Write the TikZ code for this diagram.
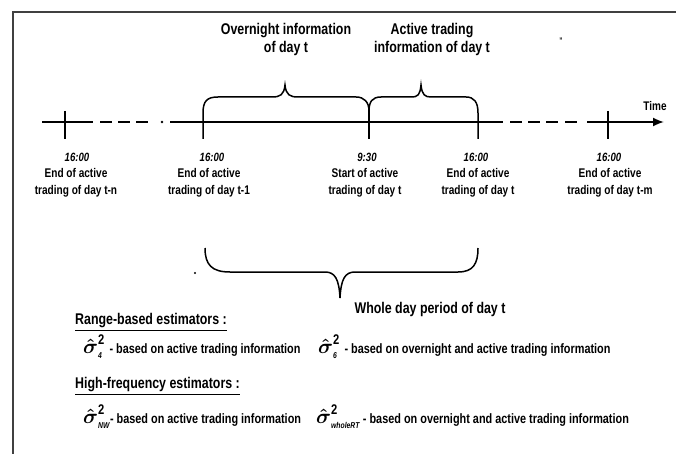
\documentclass[tikz,border=0pt]{standalone}
\usepackage{amsmath}
\usepackage{fontspec}
\setmainfont[FakeStretch=0.8]{Liberation Sans}
\usetikzlibrary{arrows.meta}
\newcommand{\sgm}[1]{{\fontsize{20}{20}\selectfont$\boldsymbol{\hat{\sigma}}^{\mathbf{2}}_{\text{\fontsize{8.5}{9}\selectfont\bfseries\itshape #1}}$}}
\begin{document}
\begin{tikzpicture}[x=1pt,y=-1pt,
  frame/.style={line width=1.8pt,black!75},
  axis/.style={line width=1.8pt,black},
  br/.style={line width=1.5pt,black},
  tickmark/.style={line width=1.5pt,black},
  lbl/.style={font=\fontsize{12.6}{17}\selectfont\bfseries,align=center,inner sep=0pt},
  tm/.style={font=\fontsize{12}{13}\selectfont\bfseries\itshape,inner sep=0pt},
  toplbl/.style={font=\fontsize{15.5}{18}\selectfont\bfseries,align=center,inner sep=0pt},
  head/.style={font=\fontsize{15.5}{17}\selectfont\bfseries,anchor=west,inner sep=0pt},
  est/.style={font=\fontsize{13.6}{15}\selectfont\bfseries,anchor=west,inner sep=0pt}
]
\useasboundingbox (0,0) rectangle (676,454);
% frame
\coordinate (fb) at (13,454);
\coordinate (fc) at (13,12);
\coordinate (fr) at (676,12);
\draw[frame] (fb) -- (fc) -- (fr);

% timeline
\coordinate (a0) at (42,122);
\coordinate (a1) at (93,122);
\coordinate (a2) at (170,122);
\coordinate (a3) at (503,122);
\coordinate (a4) at (587,122);
\coordinate (a5) at (664,122);
\draw[axis] (a0) -- (a1);
\foreach \s in {100,118,136}{\draw[axis] (\s,122) -- ++(12,0);}
\fill (162,122) circle (1.3pt);
\draw[axis] (a2) -- (a3);
\foreach \s in {510,528,546,565}{\draw[axis] (\s,122) -- ++(12,0);}
\draw[axis,-{Latex[length=11pt,width=9pt]}] (a4) -- (a5);
\node[font=\fontsize{12.5}{13}\selectfont\bfseries,inner sep=0pt] (time) at (655,106) {Time};

% ticks
\draw[tickmark] (65,111) -- (65,139);
\draw[tickmark] (608,111) -- (608,139);
\draw[tickmark] (369,111) -- (369,139);

% top braces
\draw[br] (203,139) -- (203,113) .. controls (203,101) and (207,97) .. (218,97) -- (272,97)
  .. controls (280,97) and (284,95) .. (285,85) .. controls (286,95) and (290,97) .. (298,97)
  -- (356,97) .. controls (364,97) and (369,102) .. (369,111);
\draw[br] (369,111) .. controls (369,102) and (372,97) .. (381,97) -- (411,97)
  .. controls (418,97) and (420,95) .. (421,85) .. controls (422,95) and (425,97) .. (431,97)
  -- (466,97) .. controls (474,97) and (478,102) .. (478,113) -- (478,139);

\node[toplbl] (ovn) at (286,39) {Overnight information\\of day t};
\node[toplbl] (act) at (432,39) {Active trading\\information of day t};
\node[font=\fontsize{8}{8}\selectfont\bfseries,inner sep=0pt] (mk) at (561,41) {''};

% time labels
\node[tm] (t1) at (77,157) {16:00};
\node[tm] (t2) at (212,157) {16:00};
\node[tm] (t3) at (367,157) {9:30};
\node[tm] (t4) at (476,157) {16:00};
\node[tm] (t5) at (609,157) {16:00};
\node[lbl,anchor=north] (l1) at (76,168) {End of active\\trading of day t-n};
\node[lbl,anchor=north] (l2) at (209,168) {End of active\\trading of day t-1};
\node[lbl,anchor=north] (l3) at (365,168) {Start of active\\trading of day t};
\node[lbl,anchor=north] (l4) at (478,168) {End of active\\trading of day t};
\node[lbl,anchor=north] (l5) at (610,168) {End of active\\trading of day t-m};

% bottom brace
\draw[br] (205,248) .. controls (205,265) and (212,272) .. (230,272) -- (325,272)
  .. controls (335,272) and (339,279) .. (340,298) .. controls (341,279) and (345,272) .. (355,272)
  -- (458,272) .. controls (473,272) and (478,264) .. (478,248);
\fill (195,273) circle (1.2pt);
\node[toplbl] (whole) at (430,309) {Whole day period of day t};

% estimators
\node[head] (rb) at (75,322) {\underline{Range-based estimators :}};
\node[est] (r1) at (83,347) {\sgm{4} - based on active trading information};
\node[est] (r2) at (318,347) {\sgm{6} - based on overnight and active trading information};
\node[head] (hf) at (75,386) {\underline{High-frequency estimators :}};
\node[est] (h1) at (83,417) {\sgm{NW}- based on active trading information};
\node[est] (h2) at (316,417) {\sgm{wholeRT} - based on overnight and active trading information};
\end{tikzpicture}
\end{document}
